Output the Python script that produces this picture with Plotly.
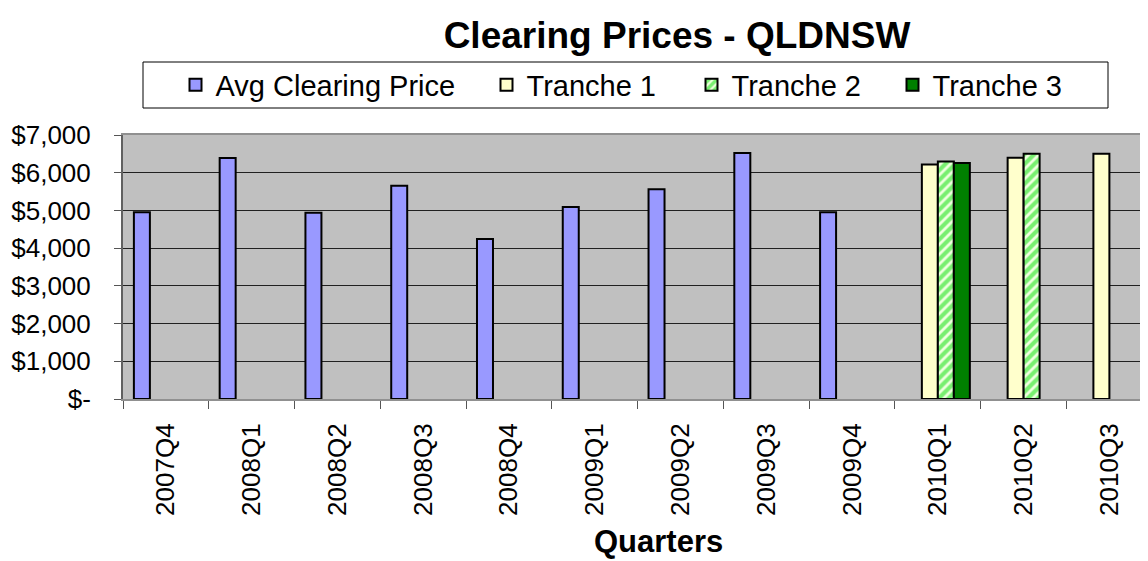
import plotly.graph_objects as go

quarters = ["2007Q4", "2008Q1", "2008Q2", "2008Q3", "2008Q4", "2009Q1",
            "2009Q2", "2009Q3", "2009Q4", "2010Q1", "2010Q2", "2010Q3"]
avg_clearing = [4955, 6390, 4940, 5655, 4240, 5090, 5560, 6520, 4955, None, None, None]
tranche1 = [None] * 9 + [6215, 6400, 6505]
tranche2 = [None] * 9 + [6300, 6505, None]
tranche3 = [None] * 9 + [6258, None, None]

y_ticks = [0, 1000, 2000, 3000, 4000, 5000, 6000, 7000]
y_tick_labels = ["$-", "$1,000", "$2,000", "$3,000", "$4,000", "$5,000", "$6,000", "$7,000"]

FONT = "Liberation Sans, Arial, sans-serif"
outline = dict(color="black", width=2)

# page offset (body margin) and figure geometry
OFF = 8
W, H = 1140, 553
L, T, B = 115, 127, 162
PW, PH = W - L, H - T - B


def px_x(page_x):
    return (page_x - OFF - L) / PW


def px_y(page_y):
    return (H - B - (page_y - OFF)) / PH


fig = go.Figure()
fig.add_trace(go.Bar(name="Avg Clearing Price", x=quarters, y=avg_clearing,
                     marker=dict(color="#9999FF", line=outline), legend="legend"))
fig.add_trace(go.Bar(name="Tranche 1", x=quarters, y=tranche1,
                     marker=dict(color="#FFFFCC", line=outline), legend="legend2"))
fig.add_trace(go.Bar(name="Tranche 2", x=quarters, y=tranche2,
                     marker=dict(color="#FFFFFF", line=outline,
                                 pattern=dict(shape="/", fgcolor="#00E000", bgcolor="#F0FFE0",
                                              size=7, solidity=0.6)),
                     legend="legend3"))
fig.add_trace(go.Bar(name="Tranche 3", x=quarters, y=tranche3,
                     marker=dict(color="#008000", line=outline), legend="legend4"))

leg_common = dict(orientation="h", xanchor="left", yanchor="middle", y=px_y(85),
                  bgcolor="rgba(0,0,0,0)", borderwidth=0,
                  font=dict(size=29, family=FONT), itemwidth=30)

fig.update_layout(
    width=W, height=H,
    margin=dict(l=L, r=0, t=T, b=B, autoexpand=False),
    paper_bgcolor="white", plot_bgcolor="#C0C0C0",
    font=dict(family=FONT, color="black", size=26),
    barmode="group", bargap=0.254, bargroupgap=0,
    title=dict(text="<b>Clearing Prices - QLDNSW</b>", font=dict(size=37, family=FONT),
               x=(677 - OFF) / W, xref="container", xanchor="center",
               y=1 - (35 - OFF) / H, yref="container", yanchor="middle"),
    showlegend=True,
    legend=dict(x=px_x(175.5), **leg_common),
    legend2=dict(x=px_x(486.5), **leg_common),
    legend3=dict(x=px_x(691.5), **leg_common),
    legend4=dict(x=px_x(892.5), **leg_common),
)

# legend frame
fig.add_shape(type="rect", xref="paper", yref="paper",
              x0=px_x(143), x1=px_x(1108), y0=px_y(108), y1=px_y(62),
              line=dict(color="black", width=1), fillcolor="rgba(0,0,0,0)", layer="above")

fig.update_xaxes(type="category", range=[-0.5, 11.45], tickson="boundaries",
                 ticks="outside", ticklen=8, tickcolor="#555555", tickangle=-90,
                 tickfont=dict(size=26), ticklabelstandoff=12,
                 showline=True, linecolor="#909090", linewidth=2, mirror=True,
                 showgrid=False)
fig.update_yaxes(range=[0, 7000], tickvals=y_ticks, ticktext=y_tick_labels,
                 ticks="outside", ticklen=7, tickcolor="#555555", tickfont=dict(size=26),
                 ticklabelstandoff=18,
                 showline=True, linecolor="#606060", linewidth=2,
                 showgrid=True, gridcolor="#202020", gridwidth=1, zeroline=False)

fig.add_annotation(text="<b>Quarters</b>", xref="paper", yref="paper",
                   x=px_x(658), y=px_y(561),
                   xanchor="center", yanchor="bottom", showarrow=False,
                   font=dict(size=31, family=FONT))

fig.write_html("out.html")
